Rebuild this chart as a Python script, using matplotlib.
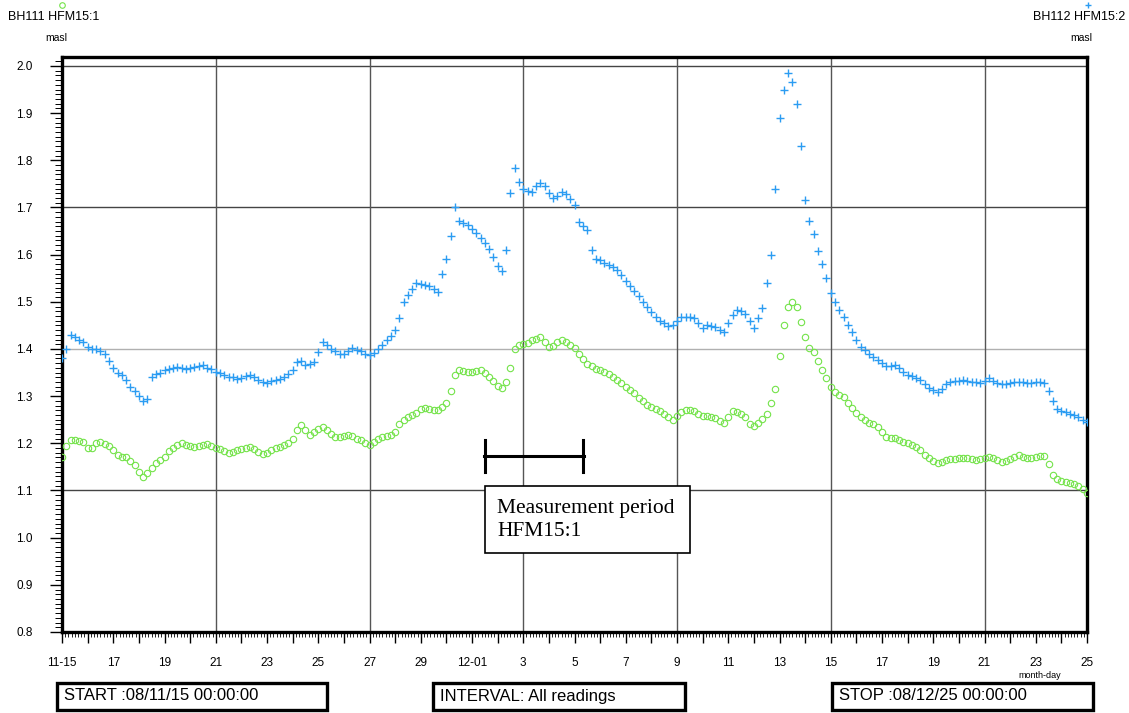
import numpy as np
import matplotlib
matplotlib.use("Agg")
import matplotlib.pyplot as plt
from matplotlib.patches import Rectangle
from matplotlib.lines import Line2D
from matplotlib.ticker import MultipleLocator, FixedLocator

plt.rcParams['font.family'] = ['Liberation Sans', 'DejaVu Sans']

# ---------------- data (readings every 4 hours, day 0 = 2008-11-15 00:00) -------------
samples_per_day = 6
n_days = 40

# BH112 HFM15:2 (blue +)
bh112 = [
    1.380, 1.400, 1.430, 1.425, 1.420, 1.415,
    1.405, 1.400, 1.400, 1.395, 1.390, 1.375,
    1.360, 1.350, 1.345, 1.335, 1.320, 1.310,
    1.300, 1.290, 1.295, 1.340, 1.348, 1.350,
    1.355, 1.358, 1.360, 1.362, 1.360, 1.358,
    1.360, 1.362, 1.364, 1.366, 1.360, 1.358,
    1.352, 1.350, 1.345, 1.340, 1.340, 1.337,
    1.338, 1.342, 1.345, 1.340, 1.335, 1.330,
    1.328, 1.332, 1.335, 1.336, 1.340, 1.348,
    1.355, 1.372, 1.375, 1.366, 1.368, 1.372,
    1.394, 1.415, 1.408, 1.400, 1.395, 1.390,
    1.390, 1.396, 1.402, 1.398, 1.395, 1.390,
    1.387, 1.392, 1.400, 1.408, 1.418, 1.428,
    1.440, 1.466, 1.500, 1.515, 1.528, 1.540,
    1.538, 1.536, 1.534, 1.528, 1.520, 1.560,
    1.590, 1.640, 1.700, 1.672, 1.667, 1.663,
    1.655, 1.645, 1.635, 1.625, 1.612, 1.595,
    1.575, 1.565, 1.610, 1.730, 1.783, 1.755,
    1.740, 1.735, 1.733, 1.745, 1.752, 1.745,
    1.730, 1.720, 1.725, 1.733, 1.728, 1.718,
    1.705, 1.670, 1.660, 1.652, 1.610, 1.590,
    1.588, 1.582, 1.578, 1.574, 1.568, 1.556,
    1.545, 1.533, 1.522, 1.513, 1.500, 1.490,
    1.478, 1.468, 1.460, 1.455, 1.448, 1.450,
    1.460, 1.468, 1.468, 1.467, 1.466, 1.455,
    1.445, 1.450, 1.448, 1.446, 1.440, 1.436,
    1.455, 1.472, 1.483, 1.480, 1.475, 1.460,
    1.445, 1.465, 1.487, 1.540, 1.600, 1.740,
    1.890, 1.950, 1.985, 1.965, 1.920, 1.830,
    1.715, 1.672, 1.643, 1.608, 1.580, 1.550,
    1.519, 1.500, 1.483, 1.468, 1.450, 1.435,
    1.420, 1.404, 1.398, 1.390, 1.383, 1.377,
    1.370, 1.363, 1.364, 1.366, 1.360, 1.352,
    1.345, 1.342, 1.339, 1.335, 1.326, 1.318,
    1.313, 1.309, 1.315, 1.325, 1.330, 1.332,
    1.333, 1.334, 1.333, 1.331, 1.330, 1.328,
    1.333, 1.338, 1.333, 1.328, 1.325, 1.325,
    1.327, 1.329, 1.330, 1.329, 1.328, 1.328,
    1.330, 1.329, 1.328, 1.310, 1.290, 1.272,
    1.268, 1.266, 1.263, 1.260, 1.256, 1.250,
    1.245,
]

# BH111 HFM15:1 (green o)
bh111 = [
    1.170, 1.195, 1.207, 1.206, 1.204, 1.203,
    1.190, 1.190, 1.200, 1.202, 1.198, 1.195,
    1.185, 1.175, 1.172, 1.170, 1.162, 1.153,
    1.140, 1.128, 1.137, 1.148, 1.158, 1.165,
    1.172, 1.183, 1.190, 1.196, 1.200, 1.197,
    1.194, 1.192, 1.194, 1.197, 1.198, 1.195,
    1.190, 1.187, 1.183, 1.180, 1.182, 1.185,
    1.187, 1.190, 1.192, 1.188, 1.182, 1.177,
    1.180, 1.185, 1.190, 1.192, 1.196, 1.201,
    1.210, 1.228, 1.239, 1.228, 1.218, 1.225,
    1.230, 1.235, 1.228, 1.220, 1.214, 1.213,
    1.215, 1.218, 1.216, 1.210, 1.206, 1.200,
    1.197, 1.203, 1.210, 1.214, 1.216, 1.217,
    1.225, 1.240, 1.250, 1.255, 1.259, 1.265,
    1.272, 1.274, 1.272, 1.270, 1.270, 1.278,
    1.286, 1.310, 1.345, 1.355, 1.353, 1.351,
    1.352, 1.354, 1.355, 1.350, 1.340, 1.332,
    1.322, 1.317, 1.330, 1.360, 1.400, 1.409,
    1.411, 1.413, 1.418, 1.422, 1.425, 1.415,
    1.405, 1.406, 1.414, 1.419, 1.414, 1.408,
    1.402, 1.390, 1.378, 1.368, 1.363, 1.358,
    1.355, 1.351, 1.348, 1.341, 1.334, 1.327,
    1.320, 1.313, 1.306, 1.297, 1.289, 1.282,
    1.277, 1.273, 1.268, 1.263, 1.256, 1.250,
    1.258, 1.267, 1.270, 1.270, 1.269, 1.263,
    1.257, 1.257, 1.256, 1.254, 1.248, 1.243,
    1.255, 1.268, 1.266, 1.262, 1.255, 1.242,
    1.236, 1.243, 1.252, 1.262, 1.285, 1.315,
    1.385, 1.450, 1.488, 1.500, 1.490, 1.457,
    1.425, 1.402, 1.394, 1.375, 1.356, 1.338,
    1.320, 1.308, 1.303, 1.298, 1.286, 1.274,
    1.265, 1.255, 1.249, 1.244, 1.240, 1.235,
    1.224, 1.213, 1.211, 1.211, 1.207, 1.203,
    1.200, 1.196, 1.192, 1.185, 1.175, 1.168,
    1.162, 1.158, 1.160, 1.164, 1.166, 1.167,
    1.168, 1.169, 1.168, 1.167, 1.165, 1.167,
    1.169, 1.171, 1.169, 1.165, 1.160, 1.162,
    1.167, 1.172, 1.175, 1.172, 1.169, 1.169,
    1.171, 1.174, 1.173, 1.156, 1.133, 1.124,
    1.120, 1.118, 1.116, 1.113, 1.110, 1.103,
    1.094,
]

tick_days = [0, 2, 4, 6, 8, 10, 12, 14, 16, 18, 20, 22, 24, 26, 28, 30, 32, 34, 36, 38, 40]
tick_labels = ["11-15", "17", "19", "21", "23", "25", "27", "29", "12-01", "3", "5",
               "7", "9", "11", "13", "15", "17", "19", "21", "23", "25"]
ygrid_values = [1.1, 1.4, 1.7, 2.0]
xgrid_days = [6, 12, 18, 24, 30, 36]

days = np.arange(len(bh112)) / samples_per_day

# ---------------- figure ----------------
W, H = 1129, 713
fig = plt.figure(figsize=(W / 100, H / 100), dpi=100)

def fx(px):
    return px / W

def fy(py):
    return 1 - py / H

ax = fig.add_axes([fx(62), fy(632), fx(1087) - fx(62), fy(57) - fy(632)])
ax.set_xlim(0, n_days)
ax.set_ylim(0.8, 2.019)

# grid
for yv in ygrid_values:
    col = '#b0b0b0' if abs(yv - 1.4) < 1e-6 else '#444444'
    ax.axhline(yv, color=col, lw=1.0, zorder=1)
for xv in xgrid_days:
    ax.axvline(xv, color='#555555', lw=1.0, zorder=1)

blue = '#2b9cf2'
green = '#74e34a'
ax.plot(days, bh112, linestyle='none', marker='+', ms=6, mew=1.0, color=blue, zorder=3)
ax.plot(days, bh111, linestyle='none', marker='o', ms=4.6, mew=0.8, mfc='none', mec=green, zorder=3)

for s in ax.spines.values():
    s.set_linewidth(2.4)
    s.set_color('black')

# ticks
yt = np.arange(0.8, 2.001, 0.1)
ax.set_yticks(yt)
ax.set_yticklabels([f"{v:.1f}" for v in yt])
ax.yaxis.set_minor_locator(MultipleLocator(0.01))
ax.tick_params(axis='y', which='major', direction='out', length=9, width=1.0, pad=12, labelsize=8.5)
ax.tick_params(axis='y', which='minor', direction='out', length=5, width=0.7)

ax.xaxis.set_major_locator(FixedLocator(list(range(0, n_days + 1))))
ax.set_xticklabels([tick_labels[tick_days.index(d)] if d in tick_days else "" for d in range(0, n_days + 1)])
ax.xaxis.set_minor_locator(MultipleLocator(1 / 8))
ax.tick_params(axis='x', which='major', direction='out', length=8, width=1.0, pad=10, labelsize=8.5)
ax.tick_params(axis='x', which='minor', direction='out', length=3.5, width=0.6)

# header texts
fig.text(fx(8), fy(17), "BH111 HFM15:1", fontsize=9, va='center', ha='left')
fig.text(fx(45), fy(38), "masl", fontsize=7.5, va='center', ha='left')
fig.add_artist(Line2D([fx(62)], [fy(5)], marker='o', ms=4, mfc='none', mec=green, mew=0.8,
                      linestyle='none', transform=fig.transFigure))
fig.text(fx(1033), fy(17), "BH112 HFM15:2", fontsize=9, va='center', ha='left')
fig.text(fx(1070), fy(38), "masl", fontsize=7.5, va='center', ha='left')
fig.add_artist(Line2D([fx(1088)], [fy(5)], marker='+', ms=5, mew=1.0, color=blue,
                      linestyle='none', transform=fig.transFigure))
fig.text(fx(1040), fy(675), "month-day", fontsize=6.5, va='center', ha='center')

# measurement period annotation
lw_b = 2.2
fig.add_artist(Line2D([fx(484), fx(584)], [fy(456), fy(456)], color='black', lw=lw_b, transform=fig.transFigure))
fig.add_artist(Line2D([fx(485), fx(485)], [fy(440), fy(472)], color='black', lw=lw_b, transform=fig.transFigure))
fig.add_artist(Line2D([fx(583), fx(583)], [fy(440), fy(472)], color='black', lw=lw_b, transform=fig.transFigure))
fig.add_artist(Rectangle((fx(485), fy(553)), fx(690) - fx(485), fy(486) - fy(553), fill=True,
                         facecolor='white', edgecolor='black', lw=1.2, transform=fig.transFigure))
fig.text(fx(497), fy(508), "Measurement period", fontsize=15.5, family='Liberation Serif',
         va='center', ha='left')
fig.text(fx(497), fy(532), "HFM15:1", fontsize=15.5, family='Liberation Serif',
         va='center', ha='left')

# bottom info boxes
boxes = [(57, 327, "START :08/11/15 00:00:00"),
         (433, 685, "INTERVAL: All readings"),
         (832, 1093, "STOP :08/12/25 00:00:00")]
for x0, x1, txt in boxes:
    fig.add_artist(Rectangle((fx(x0), fy(710)), fx(x1) - fx(x0), fy(683) - fy(710), fill=False,
                             edgecolor='black', lw=2.4, transform=fig.transFigure))
    fig.text(fx(x0 + 7), fy(696), txt, fontsize=12, va='center', ha='left')

fig.savefig("out.png", dpi=100)
